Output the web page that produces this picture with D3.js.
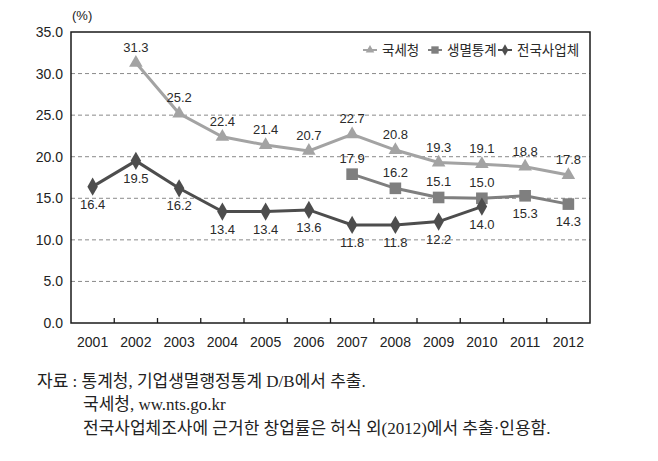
<!DOCTYPE html>
<html><head><meta charset="utf-8">
<script src="https://cdn.jsdelivr.net/npm/d3@7"></script>
<style>
body{margin:0;background:#fff;}
svg{display:block;}
</style></head>
<body>
<svg id="chart" width="658" height="461"></svg>
<script>
const years = ["2001","2002","2003","2004","2005","2006","2007","2008","2009","2010","2011","2012"];
const ntsValues = [null,31.3,25.2,22.4,21.4,20.7,22.7,20.8,19.3,19.1,18.8,17.8];
const bizStatValues = [null,null,null,null,null,null,17.9,16.2,15.1,15.0,15.3,14.3];
const surveyValues = [16.4,19.5,16.2,13.4,13.4,13.6,11.8,11.8,12.2,14.0,null,null];
const seriesNames = ["국세청","생멸통계","전국사업체"];
const yTicks = [0,5,10,15,20,25,30,35];
const bizLabelPos = ["above","above","above","above","below","below"];
const footLines = ["자료 : 통계청, 기업생멸행정통계 D/B에서 추출.","국세청, ww.nts.go.kr","전국사업체조사에 근거한 창업률은 허식 외(2012)에서 추출·인용함."];

const svg = d3.select("#chart");
const L = 71, R = 590, T = 32, B = 323;
const x = d3.scaleBand().domain(years).range([L, R]).padding(0);
const y = d3.scaleLinear().domain([0, 35]).range([B, T]);
const cx = d => x(d) + x.bandwidth() / 2;
const sans = "'Liberation Sans', Arial, 'Noto Sans CJK KR', sans-serif";

// gridlines
svg.append("g").selectAll("line").data(yTicks.filter(v => v > 0 && v < 35)).join("line")
  .attr("x1", L).attr("x2", R).attr("y1", d => y(d)).attr("y2", d => y(d))
  .attr("stroke", "#8a8a8a").attr("stroke-width", 1).attr("stroke-dasharray", "4,3");

// frame
svg.append("rect").attr("x", L).attr("y", T).attr("width", R - L).attr("height", B - T)
  .attr("fill", "none").attr("stroke", "#1a1a1a").attr("stroke-width", 1.5);

// x ticks (inside, at band boundaries)
svg.append("g").selectAll("line").data(years.slice(1)).join("line")
  .attr("x1", d => x(d)).attr("x2", d => x(d)).attr("y1", B).attr("y2", B - 5)
  .attr("stroke", "#1a1a1a").attr("stroke-width", 1.3);

// axis labels
svg.append("g").selectAll("text").data(years).join("text")
  .attr("x", d => cx(d)).attr("y", B + 24).attr("text-anchor", "middle")
  .attr("font-family", sans).attr("font-size", 14).attr("fill", "#222").text(d => d);
svg.append("g").selectAll("text").data(yTicks).join("text")
  .attr("x", 63).attr("y", d => y(d) + 5).attr("text-anchor", "end")
  .attr("font-family", sans).attr("font-size", 14).attr("fill", "#222").text(d => d.toFixed(1));
svg.append("text").attr("x", 72).attr("y", 20).attr("font-family", sans).attr("font-size", 13)
  .attr("fill", "#222").text("(%)");

// series
const series = [
  {name: seriesNames[0], vals: ntsValues, color: "#a3a3a3", shape: d3.symbolTriangle, size: 80},
  {name: seriesNames[1], vals: bizStatValues, color: "#7f7f7f", shape: d3.symbolSquare, size: 135},
  {name: seriesNames[2], vals: surveyValues, color: "#4d4d4d", shape: d3.symbolDiamond, size: 95}
];
const line = d3.line().defined(d => d.v != null).x(d => cx(d.yr)).y(d => y(d.v));

series.forEach((s, si) => {
  const pts = years.map((yr, i) => ({yr, v: s.vals[i]}));
  svg.append("path").datum(pts).attr("d", line).attr("fill", "none")
    .attr("stroke", s.color).attr("stroke-width", 3);
  const valid = pts.filter(d => d.v != null);
  svg.append("g").selectAll("path").data(valid).join("path")
    .attr("transform", d => `translate(${cx(d.yr)},${y(d.v)})`)
    .attr("d", d3.symbol().type(s.shape).size(s.size)).attr("fill", s.color);
  svg.append("g").selectAll("text").data(valid).join("text")
    .attr("x", d => cx(d.yr))
    .attr("y", (d, i) => {
      let pos = si === 0 ? "above" : si === 2 ? "below" : bizLabelPos[i];
      return pos === "above" ? y(d.v) - 11 : y(d.v) + 22;
    })
    .attr("text-anchor", "middle").attr("font-family", sans).attr("font-size", 13)
    .attr("fill", "#2a2a2a").text(d => d.v.toFixed(1));
});

// legend
const legX = [363, 428, 498];
const legG = svg.append("g");
series.forEach((s, i) => {
  const lx = legX[i], ly = 50;
  legG.append("line").attr("x1", lx).attr("x2", lx + 14).attr("y1", ly).attr("y2", ly)
    .attr("stroke", s.color).attr("stroke-width", 2);
  legG.append("path").attr("transform", `translate(${lx + 7},${ly})`)
    .attr("d", d3.symbol().type(s.shape).size(s.size * 0.4)).attr("fill", s.color);
  legG.append("text").attr("x", lx + 19).attr("y", ly + 5)
    .attr("font-family", "'Noto Sans CJK KR', sans-serif").attr("font-size", 13.5)
    .attr("fill", "#2a2a2a").text(s.name);
});

// footer
const serif = "'Liberation Serif', 'Noto Sans CJK KR', serif";
const footX = [37, 83, 83], footY = [387, 410, 434];
svg.append("g").selectAll("text").data(footLines).join("text")
  .attr("x", (d, i) => footX[i]).attr("y", (d, i) => footY[i])
  .attr("font-family", serif).attr("font-size", 17)
  .attr("fill", "#222").text(d => d);
</script>
</body></html>
